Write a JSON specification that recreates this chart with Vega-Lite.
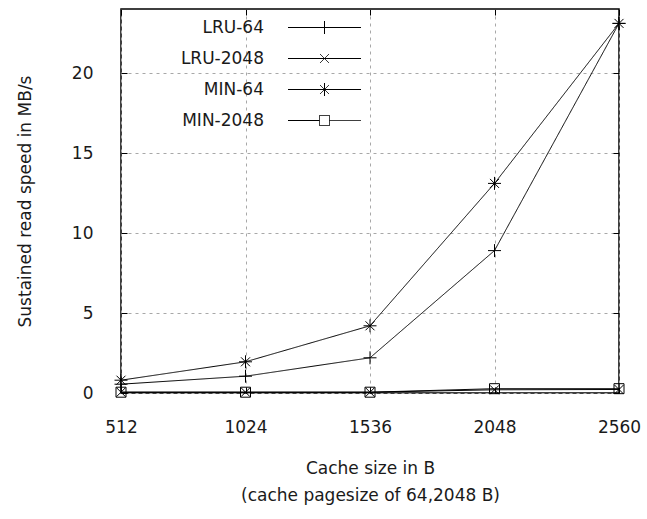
{
  "$schema": "https://vega.github.io/schema/vega-lite/v6.json",
  "width": 498,
  "height": 384,
  "autosize": {"type": "none"},
  "padding": {"left": 121, "top": 9, "right": 28, "bottom": 126},
  "background": "white",
  "config": {
    "view": {"stroke": "#000", "strokeWidth": 1.5},
    "font": "DejaVu Sans",
    "axis": {
      "labelFont": "DejaVu Sans",
      "labelFontSize": 17,
      "labelColor": "#1a1a1a",
      "titleFont": "DejaVu Sans",
      "titleFontSize": 17,
      "titleFontWeight": "normal",
      "titleColor": "#1a1a1a",
      "tickColor": "#000",
      "tickSize": -6,
      "domain": false,
      "gridColor": "#a8a8a8",
      "gridDash": [3, 4],
      "gridWidth": 1
    },
    "legend": {
      "labelFont": "DejaVu Sans",
      "labelFontSize": 17,
      "labelColor": "#1a1a1a"
    }
  },
  "data": {
    "values": [
      {"size": 512, "series": "LRU-64", "speed": 0.55},
      {"size": 1024, "series": "LRU-64", "speed": 1.05},
      {"size": 1536, "series": "LRU-64", "speed": 2.2},
      {"size": 2048, "series": "LRU-64", "speed": 8.9},
      {"size": 2560, "series": "LRU-64", "speed": 23.1},
      {"size": 512, "series": "LRU-2048", "speed": 0.05},
      {"size": 1024, "series": "LRU-2048", "speed": 0.05},
      {"size": 1536, "series": "LRU-2048", "speed": 0.05},
      {"size": 2048, "series": "LRU-2048", "speed": 0.2},
      {"size": 2560, "series": "LRU-2048", "speed": 0.22},
      {"size": 512, "series": "MIN-64", "speed": 0.8},
      {"size": 1024, "series": "MIN-64", "speed": 1.95},
      {"size": 1536, "series": "MIN-64", "speed": 4.2},
      {"size": 2048, "series": "MIN-64", "speed": 13.1},
      {"size": 2560, "series": "MIN-64", "speed": 23.1},
      {"size": 512, "series": "MIN-2048", "speed": 0.05},
      {"size": 1024, "series": "MIN-2048", "speed": 0.05},
      {"size": 1536, "series": "MIN-2048", "speed": 0.05},
      {"size": 2048, "series": "MIN-2048", "speed": 0.27},
      {"size": 2560, "series": "MIN-2048", "speed": 0.27}
    ]
  },
  "layer": [
    {
      "mark": {"type": "line", "color": "#000", "strokeWidth": 1, "clip": false},
      "encoding": {
        "x": {
          "field": "size", "type": "quantitative",
          "scale": {"domain": [512, 2560], "nice": false, "zero": false},
          "axis": {
            "orient": "bottom",
            "values": [512, 1024, 1536, 2048, 2560],
            "format": "d",
            "labelPadding": 32,
            "labelFlush": false,
            "title": ["Cache size in B", "(cache pagesize of 64,2048 B)"],
            "titleY": 67,
            "titleBaseline": "top",
            "titleLineHeight": 27
          }
        },
        "y": {
          "field": "speed", "type": "quantitative",
          "scale": {"domain": [0, 24], "nice": false},
          "axis": {
            "orient": "left",
            "values": [0, 5, 10, 15, 20],
            "format": "d",
            "labelPadding": 34,
            "title": "Sustained read speed in MB/s",
            "titleX": -96,
            "titleY": 192,
            "titleBaseline": "middle"
          }
        },
        "strokeDash": {
          "field": "series", "type": "nominal",
          "scale": {
            "domain": ["LRU-64", "LRU-2048", "MIN-64", "MIN-2048"],
            "range": [[1, 0], [1, 0], [1, 0], [1, 0]]
          },
          "legend": {
            "title": null,
            "orient": "none",
            "legendX": 195,
            "legendY": 10,
            "padding": 0,
            "symbolSize": 100,
            "symbolStrokeColor": "#000",
            "symbolFillColor": "transparent",
            "symbolStrokeWidth": 1,
            "symbolOffset": 0,
            "labelOffset": -69,
            "labelAlign": "right",
            "rowPadding": 13,
            "symbolType": {"expr": "datum.value === 'LRU-64' ? 'M-7.3,0H7.3M0,-1.3V1.3' : datum.value === 'LRU-2048' ? 'M-7.3,0H7.3M-0.9,-0.9L0.9,0.9M-0.9,0.9L0.9,-0.9' : datum.value === 'MIN-64' ? 'M-7.3,0H7.3M0,-1.3V1.3M-0.9,-0.9L0.9,0.9M-0.9,0.9L0.9,-0.9' : 'M-7.3,0H-1M1,0H7.3M-1,-1H1V1H-1Z'"}
          }
        }
      }
    },
    {
      "mark": {"type": "point", "filled": false, "stroke": "#000", "fill": "transparent", "strokeWidth": 1, "size": 100, "opacity": 1, "clip": false},
      "encoding": {
        "x": {
          "field": "size", "type": "quantitative",
          "axis": {"orient": "top", "values": [512, 1024, 1536, 2048, 2560], "labels": false, "title": null, "grid": false}
        },
        "y": {
          "field": "speed", "type": "quantitative",
          "axis": {"orient": "right", "values": [0, 5, 10, 15, 20], "labels": false, "title": null, "grid": false}
        },
        "shape": {
          "field": "series", "type": "nominal",
          "scale": {
            "domain": ["MIN-2048", "MIN-64", "LRU-2048", "LRU-64"],
            "range": [
              "M-1,-1H1V1H-1Z",
              "M-1.3,0H1.3M0,-1.3V1.3M-0.9,-0.9L0.9,0.9M-0.9,0.9L0.9,-0.9",
              "M-0.9,-0.9L0.9,0.9M-0.9,0.9L0.9,-0.9",
              "M-1.3,0H1.3M0,-1.3V1.3"
            ]
          },
          "legend": null
        }
      }
    }
  ],
  "resolve": {"axis": {"x": "independent", "y": "independent"}, "scale": {"shape": "independent", "strokeDash": "independent"}, "legend": {"shape": "independent", "strokeDash": "independent"}}
}
